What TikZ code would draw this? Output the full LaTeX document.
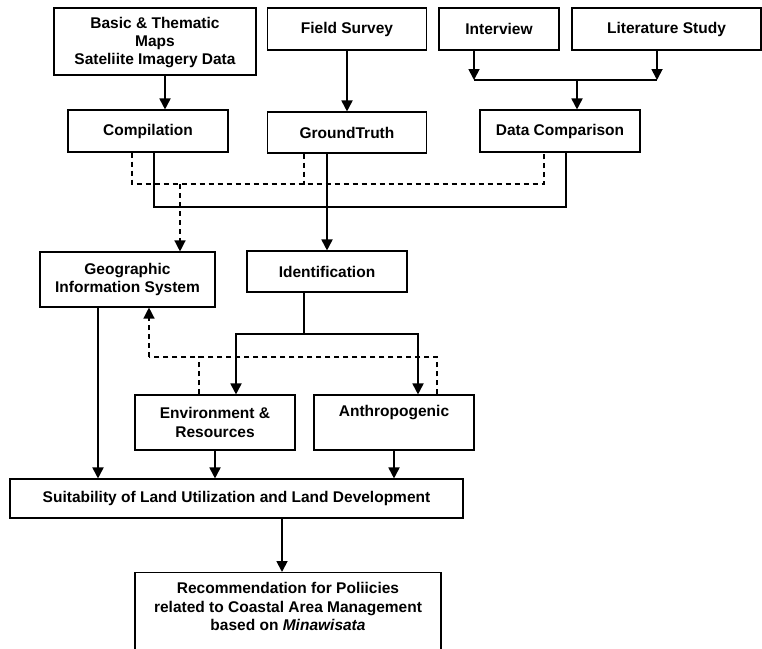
\documentclass[tikz,border=0pt]{standalone}
\usepackage{fontspec}
\setmainfont{Liberation Sans}
\usetikzlibrary{arrows.meta}

\begin{document}
\begin{tikzpicture}[
                x = 1pt, y = -1pt,
                box/.style = {draw, line width = 1.1pt, rectangle, inner sep = 0pt, align = center,
                              font = \bfseries\fontsize{15.5}{18.3}\selectfont},
                line/.style = {draw, line width = 1.8pt},
                dline/.style = {draw, line width = 1.3pt, dash pattern = on 5pt off 4pt},
                arr/.style = {draw, line width = 1.8pt, -{Triangle[length = 11pt, width = 11pt]}},
                darr/.style = {dline, -{Triangle[length = 11pt, width = 11pt]}},
            ]
            \useasboundingbox (0, 0) rectangle (762, 648);

            \node (basic) at (155, 41.5) [box, minimum width = 202, minimum height = 67, text depth = 1] {Basic \& Thematic\\Maps\\Sateliite Imagery Data};
            \node (field) at (347, 29) [box, minimum width = 159, minimum height = 42] {Field Survey};
            \node (interview) at (499, 29) [box, minimum width = 120, minimum height = 42] {Interview};
            \node (lit) at (666.5, 29) [box, minimum width = 189, minimum height = 42] {Literature Study};

            \node (compil) at (148, 131) [box, minimum width = 160, minimum height = 42] {Compilation};
            \node (ground) at (347, 132.5) [box, minimum width = 159, minimum height = 41] {GroundTruth};
            \node (datacomp) at (560, 131) [box, minimum width = 160, minimum height = 42] {Data Comparison};

            \node (gis) at (127.5, 279.5) [box, minimum width = 175, minimum height = 55] {Geographic\\Information System};
            \node (ident) at (327, 271.5) [box, minimum width = 160, minimum height = 41] {Identification};

            \node (env) at (215, 422.5) [box, minimum width = 160, minimum height = 55] {Environment \&\\Resources};
            \node (anthro) at (394, 422.5) [box, minimum width = 160, minimum height = 55, text depth = 23] {Anthropogenic};

            \node (suit) at (236.5, 498.5) [box, minimum width = 453, minimum height = 39] {Suitability of Land Utilization and Land Development};
            \node (rec) at (288, 572) [box, anchor = north, minimum width = 306, minimum height = 86, text depth = 18] {Recommendation for Poliicies\\related to Coastal Area Management\\based on \textit{Minawisata}};

            \coordinate (ij) at (474, 80);
            \coordinate (lj) at (657, 80);
            \coordinate (mid) at (577, 80);
            \coordinate (bar) at (327, 207);
            \coordinate (dbar) at (180, 184);
            \coordinate (split) at (304, 334);
            \coordinate (ebar) at (149, 357);

            \path[arr] ([xshift = 10]basic.south) -- ([xshift = 17]compil.north);
            \path[arr] (field.south) -- (ground.north);
            \path[arr] ([xshift = -25]interview.south) -- (ij);
            \path[arr] ([xshift = -9.5]lit.south) -- (lj);
            \path[line] (ij) -- (lj);
            \path[arr] (mid) -- (datacomp.north -| mid);

            \path[line] ([xshift = 6]compil.south) |- (bar) -| ([xshift = 6]datacomp.south);
            \path[arr] ([xshift = -20]ground.south) -- (ident.north);

            \path[dline] ([xshift = -16]compil.south) |- (dbar) -| ([xshift = -16]datacomp.south);
            \path[dline] ([xshift = -43]ground.south) -- ++(0, 31);
            \path[darr] (dbar) -- ([xshift = 52.5]gis.north);

            \path[line] ([xshift = -23]ident.south) -- (split);
            \path[arr] (split) -| ([xshift = 21]env.north);
            \path[arr] (split) -| ([xshift = 24]anthro.north);

            \path[dline] ([xshift = 43]anthro.north) |- (ebar);
            \path[dline] ([xshift = -16]env.north) -- ++(0, -38);
            \path[darr] (ebar) -- ([xshift = 21.5]gis.south);

            \path[arr] ([xshift = -29.5]gis.south) -- ([xshift = -29.5]gis.south |- suit.north);
            \path[arr] (env.south) -- (env.south |- suit.north);
            \path[arr] (anthro.south) -- (anthro.south |- suit.north);
            \path[arr] ([xshift = 45.5]suit.south) -- ([xshift = -6]rec.north);
        \end{tikzpicture}
\end{document}
